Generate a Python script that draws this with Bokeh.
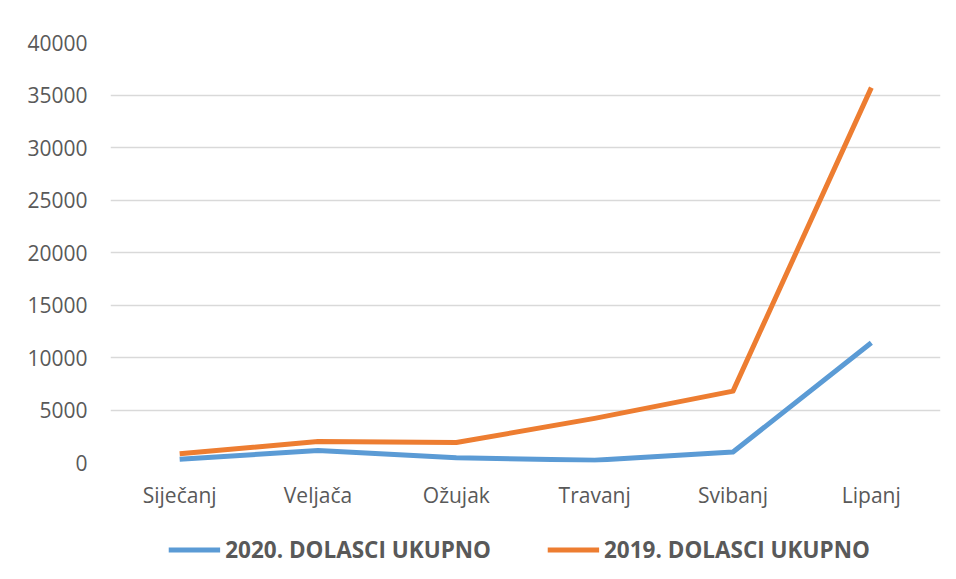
from bokeh.plotting import figure
from bokeh.layouts import column
from bokeh.models import Range1d, Legend, LegendItem, ColumnDataSource
from bokeh.embed import file_html
from bokeh.resources import INLINE

months = ["Siječanj", "Veljača", "Ožujak", "Travanj", "Svibanj", "Lipanj"]
dolasci_2020 = [320, 1140, 450, 220, 1000, 11400]
dolasci_2019 = [830, 2000, 1900, 4200, 6800, 35700]
y_ticks = [0, 5000, 10000, 15000, 20000, 25000, 30000, 35000, 40000]
series_labels = ["2020. DOLASCI UKUPNO", "2019. DOLASCI UKUPNO"]

FONT = "Open Sans"
TXT = "#595959"
BLUE = "#5B9BD5"
ORANGE = "#ED7D31"

p = figure(x_range=months, y_range=Range1d(0, 40000), frame_width=830, frame_height=420,
           output_backend="svg", toolbar_location=None,
           min_border_left=110, min_border_right=8, min_border_top=42, min_border_bottom=49)
p.outline_line_color = None
p.background_fill_color = "white"
p.border_fill_color = "white"

src = ColumnDataSource(dict(m=months, a=dolasci_2020, b=dolasci_2019))
p.line("m", "a", source=src, line_color=BLUE, line_width=5, line_join="round")
p.line("m", "b", source=src, line_color=ORANGE, line_width=5, line_join="round")

p.yaxis.ticker = y_ticks
p.yaxis.axis_line_color = None
p.yaxis.major_tick_line_color = None
p.yaxis.minor_tick_line_color = None
p.yaxis.major_label_text_font = FONT
p.yaxis.major_label_text_font_size = "21px"
p.yaxis.major_label_text_color = TXT
p.yaxis.major_label_standoff = 17

p.xaxis.axis_line_color = None
p.xaxis.major_tick_line_color = None
p.xaxis.major_label_text_font = FONT
p.xaxis.major_label_text_font_size = "21px"
p.xaxis.major_label_text_color = TXT
p.xaxis.major_label_standoff = 12

p.xgrid.grid_line_color = None
p.ygrid.grid_line_color = "#d9d9d9"
p.ygrid.grid_line_width = 1.5

# legend strip below the chart (keys drawn outside the visible range)
lg = figure(width=948, height=60, x_range=Range1d(0, 1), y_range=Range1d(0, 1),
            output_backend="svg", toolbar_location=None,
            x_axis_type=None, y_axis_type=None,
            min_border_left=0, min_border_right=20, min_border_top=16, min_border_bottom=0)
lg.outline_line_color = None
lg.xgrid.grid_line_color = None
lg.ygrid.grid_line_color = None
k20 = lg.line(x=[-3, -2], y=[-3, -2], line_color=BLUE, line_width=5)
k19 = lg.line(x=[-3, -2], y=[-3, -2], line_color=ORANGE, line_width=5)

legend = Legend(items=[LegendItem(label=series_labels[0], renderers=[k20]),
                       LegendItem(label=series_labels[1], renderers=[k19])],
                orientation="horizontal", location="center",
                label_text_font=FONT, label_text_font_size="22.5px",
                label_text_font_style="bold", label_text_color=TXT,
                glyph_width=52, glyph_height=20, label_standoff=5, spacing=56,
                border_line_color=None, background_fill_alpha=0,
                padding=0, margin=0)
lg.add_layout(legend)

layout = column(p, lg, spacing=0)
open("out.html", "w").write(file_html(layout, INLINE))
